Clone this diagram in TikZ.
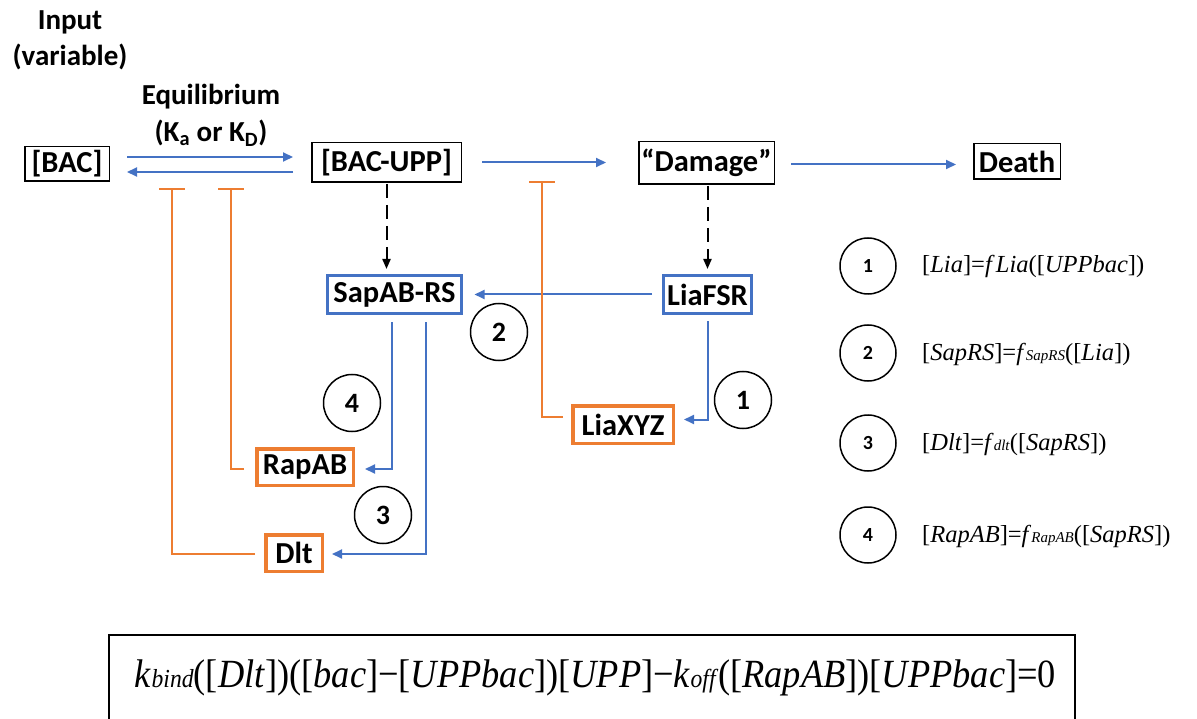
\documentclass[tikz,border=0pt]{standalone}
\usepackage{fontspec}
\setmainfont{Carlito}
\newfontfamily\mathserif{Liberation Serif}
\usetikzlibrary{arrows.meta,calc}
\definecolor{oblue}{HTML}{4472C4}
\definecolor{oorange}{HTML}{ED7D31}
\newcommand{\sm}[1]{{\fontsize{15}{15}\selectfont\textit{#1}}}
\newcommand{\bsm}[1]{{\fontsize{26}{26}\selectfont\textit{#1}}}
\begin{document}
\begin{tikzpicture}[x=1pt,y=-1pt,
  lbl/.style={font=\fontsize{29}{29}\selectfont\bfseries, inner sep=0pt},
  boxlbl/.style={font=\fontsize{30.5}{30.5}\selectfont\bfseries, inner sep=0pt},
  bbox/.style={draw=black, line width=1.5pt, boxlbl},
  bluebox/.style={draw=oblue, line width=3pt, boxlbl},
  orbox/.style={draw=oorange, line width=3.5pt, boxlbl},
  act/.style={draw=oblue, line width=2pt, -{Triangle[length=10pt,width=9pt]}},
  dashact/.style={draw=black, line width=2pt, dash pattern=on 14pt off 7pt, -{Triangle[length=10pt,width=8pt]}},
  inh/.style={draw=oorange, line width=2pt, -{Bar[width=26pt]}},
  num/.style={circle, draw, line width=1.5pt, minimum size=57pt, inner sep=0pt, font=\fontsize{28}{28}\selectfont\bfseries},
  lnum/.style={num, minimum size=56pt, font=\fontsize{20}{20}\selectfont\bfseries},
  eq/.style={anchor=base west, inner sep=0pt, font=\mathserif\fontsize{24.5}{24.5}\selectfont}
]
\useasboundingbox (0,0) rectangle (1197,719);

% header labels
\node[lbl] (inp) at (70,22) {Input};
\node[lbl] (var) at (70,57) {(variable)};
\node[lbl] (eqm) at (211,97) {Equilibrium};
\node[lbl] (kk) at (211,133) {(K\textsubscript{a} or K\textsubscript{D})};

% boxes
\node[bbox, minimum width=84.5pt, minimum height=34.5pt] (bac) at (67,164) {[BAC]};
\node[bbox, minimum width=149.5pt, minimum height=39.5pt] (bacupp) at (386.5,162.5) {[BAC-UPP]};
\node[bbox, minimum width=135.5pt, minimum height=42.5pt] (damage) at (706.5,163) {``Damage''};
\node[bbox, minimum width=86.5pt, minimum height=35.5pt] (death) at (1017,161.5) {Death};
\node[bluebox, minimum width=134pt, minimum height=38pt] (sap) at (394.5,294.5) {SapAB-RS};
\node[bluebox, minimum width=88pt, minimum height=38pt] (liafsr) at (707.5,294.5) {LiaFSR};
\node[orbox, minimum width=100.5pt, minimum height=37.5pt] (liaxyz) at (623,424.5) {LiaXYZ};
\node[orbox, minimum width=96.5pt, minimum height=36.5pt] (rapab) at (305,467) {RapAB};
\node[orbox, minimum width=56.5pt, minimum height=36.5pt] (dlt) at (294,553) {Dlt};

% inhibition bar ends
\coordinate (b1) at (172,188);
\coordinate (b2) at (231,188);
\coordinate (b3) at (542,181);

% activation arrows
\draw[act, shorten <=17pt, shorten >=18pt] ([yshift=7pt]bac.east) -- ([yshift=7pt]bac.east -| bacupp.west);
\draw[act, shorten <=18pt, shorten >=17pt] ([yshift=-8pt]bac.east -| bacupp.west) -- ([yshift=-8pt]bac.east);
\draw[act, shorten <=20pt, shorten >=32pt] (bacupp.east) -- (bacupp.east -| damage.west);
\draw[act, shorten <=16pt, shorten >=17pt] ([yshift=-1.5pt]damage.east) -- ([yshift=-1.5pt]damage.east -| death.west);
\draw[act, shorten <=10pt, shorten >=11.5pt] (liafsr.west) -- (sap.east);
\draw[act, shorten <=7.5pt, shorten >=10pt] ([xshift=-2.5pt]sap.south) |- ([yshift=-2pt]rapab.east);
\draw[act, shorten <=7.5pt, shorten >=8pt] ([xshift=31.5pt]sap.south) |- ([yshift=-1pt]dlt.east);
\draw[act, shorten <=6.5pt, shorten >=9pt] (liafsr.south) |- ([yshift=5pt]liaxyz.east);

% dashed arrows
\draw[dashact, shorten <=1pt, shorten >=5pt] (bacupp.south) -- (bacupp.south |- sap.north);
\draw[dashact, shorten <=1pt, shorten >=5pt] ([xshift=1pt]damage.south) -- ([xshift=1pt]damage.south |- liafsr.north);

% inhibition
\draw[inh, shorten <=9pt] ([yshift=-1pt]dlt.west) -| (b1);
\draw[inh, shorten <=11pt] ([yshift=-2pt]rapab.west) -| (b2);
\draw[inh, shorten <=8pt] ([yshift=7.5pt]liaxyz.west) -| (b3);

% numbered circles
\node[num] (c1) at (743,400) {1};
\node[num] (c2) at (499,332) {2};
\node[num] (c4) at (352,403) {4};
\node[num] (c3) at (383,515) {3};

% legend
\node[lnum] (l1) at (868,266) {1};
\node[lnum] (l2) at (868,353) {2};
\node[lnum] (l3) at (868,443) {3};
\node[lnum] (l4) at (868,535) {4};
\node[eq] (e1) at (922,273) {[\textit{Lia}]=\textit{f\,Lia}([\textit{UPPbac}])};
\node[eq] (e2) at (922,360) {[\textit{SapRS}]=\textit{f}\sm{SapRS}([\textit{Lia}])};
\node[eq] (e3) at (922,450) {[\textit{Dlt}]=\textit{f}\sm{dlt}([\textit{SapRS}])};
\node[eq] (e4) at (922,542) {[\textit{RapAB}]=\textit{f}\sm{RapAB}([\textit{SapRS}])};

% bottom equation
\draw[line width=1.5pt] (109,721) -- (109,635) -- (1075,635) -- (1075,721);
\node[inner sep=0pt, font=\mathserif\fontsize{40}{40}\selectfont] (beq) at (595.5,678)
  {\resizebox{921pt}{\height}{\textit{k}\bsm{bind}([\textit{Dlt}])([\textit{bac}]−[\textit{UPPbac}])[\textit{UPP}]−\textit{k}\bsm{off}([\textit{RapAB}])[\textit{UPPbac}]=0}};
\end{tikzpicture}
\end{document}
